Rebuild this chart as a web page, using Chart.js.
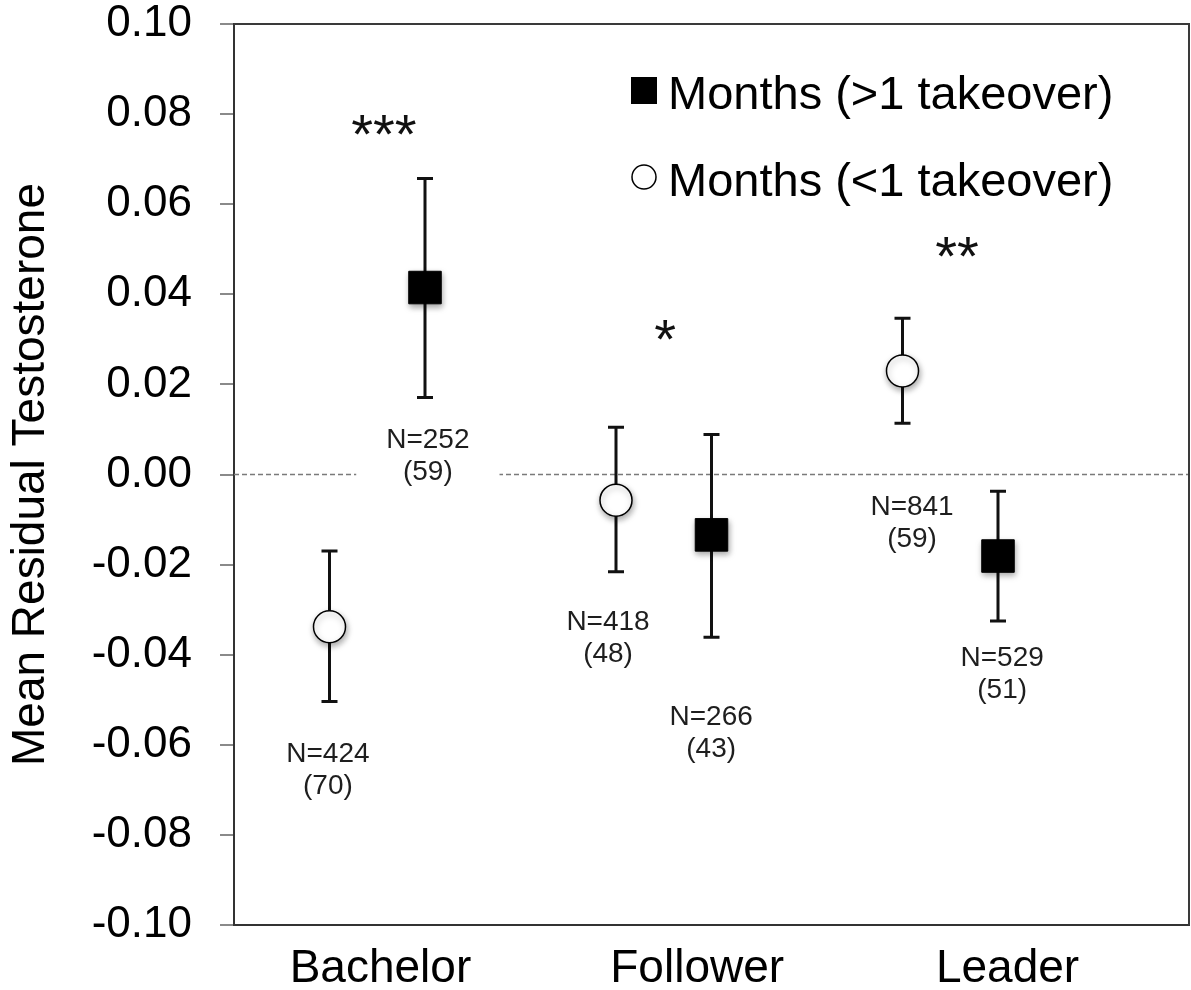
<!DOCTYPE html>
<html>
<head>
<meta charset="utf-8">
<script src="https://cdn.jsdelivr.net/npm/chart.js@4.4.1/dist/chart.umd.min.js"></script>
<style>
  html, body { margin: 0; padding: 0; background: #ffffff; }
  #wrap { width: 1191px; height: 990px; }
</style>
</head>
<body>
<div id="wrap"><canvas id="chart" width="1191" height="990"></canvas></div>
<script>
// ---- data -------------------------------------------------------------
const categories = ['Bachelor', 'Follower', 'Leader'];
const categoryTickPos = [0.46, 1.455, 2.43];

const yTickValues = [-0.10, -0.08, -0.06, -0.04, -0.02, 0.00, 0.02, 0.04, 0.06, 0.08, 0.10];
const yTickLabels = ['-0.10', '-0.08', '-0.06', '-0.04', '-0.02', '0.00', '0.02', '0.04', '0.06', '0.08', '0.10'];

// months with more than one takeover (filled squares)
const highLabel = 'Months (>1 takeover)';
const highX = [0.6, 1.5, 2.4];
const highMean = [0.0415, -0.0134, -0.0181];
const highUpper = [0.0657, 0.0089, -0.0037];
const highLower = [0.0171, -0.0361, -0.0325];
const highN = [252, 266, 529];
const highMales = [59, 43, 51];

// months with fewer than one takeover (open circles)
const lowLabel = 'Months (<1 takeover)';
const lowX = [0.3, 1.2, 2.1];
const lowMean = [-0.0338, -0.0057, 0.0230];
const lowUpper = [-0.0170, 0.0105, 0.0347];
const lowLower = [-0.0504, -0.0216, 0.0114];
const lowN = [424, 418, 841];
const lowMales = [70, 48, 59];

// significance of the difference within each status
const significance = ['***', '*', '**'];

// ---- note placement (axis units) -------------------------------------
const highNoteAt = [[0.609, 0.0077], [1.499, -0.0540], [2.413, -0.0407]];
const lowNoteAt = [[0.295, -0.0620], [1.175, -0.0327], [2.130, -0.0072]];
const boxedNotes = [[0, 0]]; // [series (0 = high, 1 = low), index] drawn on a white box
const sigAt = [[0.471, 0.0776], [1.354, 0.0321], [2.271, 0.0505]];

const FONT = '"Liberation Sans", Arial, Helvetica, sans-serif';
const INK = '#111111';

function drawErrorBars(ctx, xs, sc, ups, lows) {
  const { x, y } = sc;
  ctx.save();
  ctx.strokeStyle = INK;
  ctx.lineWidth = 3;
  ctx.lineCap = 'butt';
  xs.forEach((v, i) => {
    const px = x.getPixelForValue(v);
    const pu = y.getPixelForValue(ups[i]);
    const pl = y.getPixelForValue(lows[i]);
    ctx.beginPath();
    ctx.moveTo(px, pu); ctx.lineTo(px, pl);
    ctx.moveTo(px - 8, pu); ctx.lineTo(px + 8, pu);
    ctx.moveTo(px - 8, pl); ctx.lineTo(px + 8, pl);
    ctx.stroke();
  });
  ctx.restore();
}

function noteLines(series, i) {
  return series === 0
    ? ['N=' + highN[i], '(' + highMales[i] + ')']
    : ['N=' + lowN[i], '(' + lowMales[i] + ')'];
}

const annotate = {
  id: 'annotate',
  beforeDatasetsDraw(chart) {
    const { ctx, chartArea: a, scales } = chart;
    const { x, y } = scales;
    // zero reference line
    ctx.save();
    ctx.strokeStyle = '#7a7a7a';
    ctx.lineWidth = 1.5;
    ctx.setLineDash([5, 3]);
    const y0 = y.getPixelForValue(0);
    ctx.beginPath();
    ctx.moveTo(a.left, y0);
    ctx.lineTo(a.right, y0);
    ctx.stroke();
    ctx.restore();

    // white boxes behind boxed notes
    ctx.save();
    ctx.font = '28px ' + FONT;
    boxedNotes.forEach(([s, i]) => {
      const at = s === 0 ? highNoteAt[i] : lowNoteAt[i];
      const lines = noteLines(s, i);
      const w = Math.max(...lines.map(t => ctx.measureText(t).width));
      const cx = x.getPixelForValue(at[0]);
      const cy = y.getPixelForValue(at[1]);
      ctx.fillStyle = '#ffffff';
      ctx.fillRect(cx - w / 2 - 30, cy - 22, w + 60, 32 + 44);
    });
    ctx.restore();

    drawErrorBars(ctx, lowX, scales, lowUpper, lowLower);
    drawErrorBars(ctx, highX, scales, highUpper, highLower);
  },
  beforeDatasetDraw(chart) {
    const ctx = chart.ctx;
    ctx.save();
    ctx.shadowColor = 'rgba(0,0,0,0.35)';
    ctx.shadowBlur = 6;
    ctx.shadowOffsetX = 1;
    ctx.shadowOffsetY = 3;
  },
  afterDatasetDraw(chart) {
    chart.ctx.restore();
  },
  afterDraw(chart) {
    const { ctx, chartArea: a, scales } = chart;
    const { x, y } = scales;

    // top and right frame
    ctx.save();
    ctx.strokeStyle = '#3a3a3a';
    ctx.lineWidth = 2;
    ctx.beginPath();
    ctx.moveTo(a.left, a.top);
    ctx.lineTo(a.right, a.top);
    ctx.lineTo(a.right, a.bottom);
    ctx.stroke();
    ctx.restore();

    // sample size notes
    ctx.save();
    ctx.font = '28px ' + FONT;
    ctx.fillStyle = '#1e1e1e';
    ctx.textAlign = 'center';
    ctx.textBaseline = 'middle';
    [highNoteAt, lowNoteAt].forEach((list, s) => {
      list.forEach((at, i) => {
        const cx = x.getPixelForValue(at[0]);
        const cy = y.getPixelForValue(at[1]);
        noteLines(s, i).forEach((t, k) => ctx.fillText(t, cx, cy + k * 32));
      });
    });
    ctx.restore();

    // significance stars
    ctx.save();
    ctx.font = '56px ' + FONT;
    ctx.fillStyle = INK;
    ctx.textAlign = 'center';
    ctx.textBaseline = 'alphabetic';
    significance.forEach((t, i) => {
      const m = ctx.measureText(t);
      const cx = x.getPixelForValue(sigAt[i][0]);
      const cy = y.getPixelForValue(sigAt[i][1]);
      ctx.fillText(t, cx, cy + (m.actualBoundingBoxAscent - m.actualBoundingBoxDescent) / 2);
    });
    ctx.restore();

    // legend
    ctx.save();
    const lx = a.left + 410;
    const rows = [a.top + 66, a.top + 153];
    chart.data.datasets.forEach((ds, i) => {
      const cy = rows[i];
      if (ds.pointStyle === 'rect') {
        ctx.fillStyle = '#000';
        ctx.fillRect(lx - 13, cy - 13, 26, 27);
      } else {
        ctx.beginPath();
        ctx.arc(lx, cy, 12, 0, Math.PI * 2);
        ctx.fillStyle = '#fff';
        ctx.fill();
        ctx.lineWidth = 1.5;
        ctx.strokeStyle = '#000';
        ctx.stroke();
      }
      ctx.font = '47px ' + FONT;
      ctx.fillStyle = '#000';
      ctx.textAlign = 'left';
      ctx.textBaseline = 'middle';
      ctx.fillText(ds.label, lx + 24, cy + 6);
    });
    ctx.restore();
  }
};

new Chart(document.getElementById('chart'), {
  type: 'scatter',
  data: {
    datasets: [
      {
        label: highLabel,
        data: highX.map((v, i) => ({ x: v, y: highMean[i] })),
        pointStyle: 'rect',
        pointRadius: 23,
        pointHoverRadius: 23,
        backgroundColor: '#000000',
        borderColor: '#000000',
        borderWidth: 1
      },
      {
        label: lowLabel,
        data: lowX.map((v, i) => ({ x: v, y: lowMean[i] })),
        pointStyle: 'circle',
        pointRadius: 16,
        pointHoverRadius: 16,
        backgroundColor: '#ffffff',
        borderColor: '#000000',
        borderWidth: 1.5
      }
    ]
  },
  options: {
    responsive: false,
    animation: false,
    devicePixelRatio: 1,
    events: [],
    layout: { autoPadding: false, padding: { top: 24, right: 2, left: 0, bottom: 0 } },
    plugins: {
      legend: { display: false },
      tooltip: { enabled: false }
    },
    scales: {
      x: {
        type: 'linear',
        min: 0,
        max: 3,
        afterBuildTicks(scale) {
          scale.ticks = categoryTickPos.map(v => ({ value: v }));
        },
        afterFit(scale) {
          scale.height = 65;
          scale.paddingLeft = 0;
          scale.paddingRight = 0;
        },
        grid: { display: false, drawTicks: false },
        border: { display: true, color: '#333333', width: 2 },
        ticks: {
          autoSkip: false,
          maxRotation: 0,
          padding: 17,
          color: '#000000',
          font: { family: FONT, size: 46 },
          callback: (v, i) => categories[i]
        }
      },
      y: {
        type: 'linear',
        min: -0.10,
        max: 0.10,
        afterBuildTicks(scale) {
          scale.ticks = yTickValues.map(v => ({ value: v }));
        },
        afterFit(scale) {
          scale.width = 234;
          scale.paddingTop = 0;
          scale.paddingBottom = 0;
        },
        grid: {
          display: true,
          drawOnChartArea: false,
          drawTicks: true,
          tickLength: 14,
          color: '#8a8a8a',
          lineWidth: 2
        },
        border: { display: true, color: '#333333', width: 2 },
        ticks: {
          autoSkip: false,
          padding: 28,
          color: '#000000',
          font: { family: FONT, size: 44 },
          callback: (v, i) => yTickLabels[i]
        },
        title: {
          display: true,
          text: 'Mean Residual Testosterone',
          color: '#000000',
          font: { family: FONT, size: 46 },
          padding: { top: 4, bottom: 0 }
        }
      }
    }
  },
  plugins: [annotate]
});
</script>
</body>
</html>
